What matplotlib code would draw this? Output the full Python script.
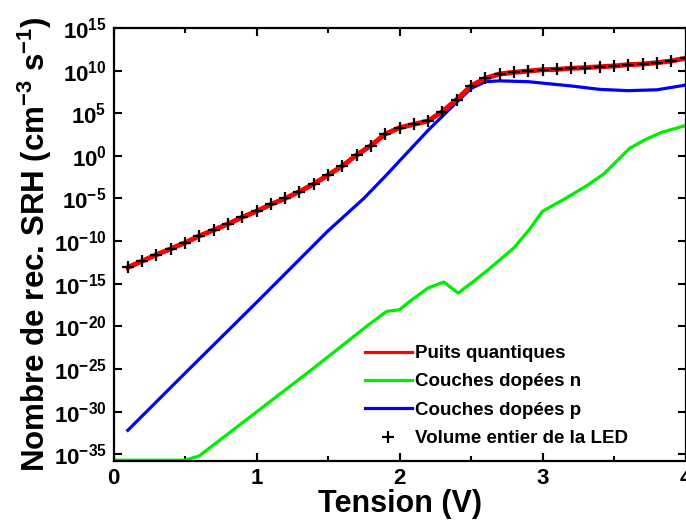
import numpy as np
import matplotlib
matplotlib.use("Agg")
import matplotlib.pyplot as plt
from matplotlib.ticker import FixedLocator, FuncFormatter, MultipleLocator

plt.rcParams['font.family'] = ['Liberation Sans', 'DejaVu Sans']
plt.rcParams['font.weight'] = 'bold'
plt.rcParams['mathtext.fontset'] = 'custom'
plt.rcParams['mathtext.rm'] = 'Liberation Sans:bold'
plt.rcParams['mathtext.bf'] = 'Liberation Sans:bold'
plt.rcParams['mathtext.it'] = 'Liberation Sans:bold'
plt.rcParams['mathtext.default'] = 'rm'

# ---- data (log10 of SRH recombination rate) ----
x_qw = [0.1, 0.2, 0.3, 0.4, 0.5, 0.6, 0.7, 0.8, 0.9, 1.0,
        1.1, 1.2, 1.3, 1.4, 1.5, 1.6, 1.7, 1.8, 1.9, 2.0,
        2.1, 2.2, 2.3, 2.4, 2.5, 2.6, 2.7, 2.8, 2.9, 3.0,
        3.1, 3.2, 3.3, 3.4, 3.5, 3.6, 3.7, 3.8, 3.9, 4.0]
log_qw = [-13.09, -12.35, -11.6, -10.9, -10.2, -9.4, -8.7, -8.0, -7.2, -6.5,
          -5.7, -5.0, -4.2, -3.3, -2.25, -1.2, 0.1, 1.2, 2.55, 3.3,
          3.7, 4.1, 5.2, 6.6, 8.2, 9.1, 9.6, 9.8, 9.95, 10.1,
          10.15, 10.27, 10.35, 10.45, 10.54, 10.7, 10.77, 10.93, 11.13, 11.45]

x_total = x_qw
log_total = [-13.09, -12.35, -11.6, -10.9, -10.2, -9.4, -8.7, -8.0, -7.2, -6.5,
             -5.7, -5.0, -4.2, -3.3, -2.25, -1.2, 0.1, 1.2, 2.55, 3.3,
             3.7, 4.1, 5.2, 6.6, 8.2, 9.1, 9.6, 9.8, 9.95, 10.1,
             10.15, 10.27, 10.35, 10.45, 10.54, 10.7, 10.77, 10.93, 11.13, 11.45]

x_n = [0.0, 0.5, 0.6, 1.0, 1.4, 1.77, 1.91, 2.0, 2.07, 2.2, 2.31, 2.41, 2.52,
       2.61, 2.8, 2.91, 3.0, 3.15, 3.31, 3.43, 3.52, 3.61, 3.73, 3.84, 4.0]
log_n = [-35.7, -35.7, -35.2, -30.05, -24.9, -20.0, -18.25, -18.05, -17.1, -15.5,
         -14.8, -16.1, -14.7, -13.5, -10.8, -8.6, -6.5, -5.1, -3.5, -2.1, -0.6,
         0.9, 2.0, 2.8, 3.55]

x_p = [0.1, 0.5, 1.0, 1.5, 1.75, 1.9, 2.0, 2.2, 2.4, 2.5, 2.6, 2.7, 2.9,
       3.2, 3.4, 3.6, 3.8, 4.0]
log_p = [-32.2, -25.5, -17.2, -8.8, -5.0, -2.4, -0.6, 3.0, 6.3, 7.9, 8.7, 8.8,
         8.7, 8.2, 7.8, 7.65, 7.75, 8.3]

labels = ["Puits quantiques", "Couches dopées n", "Couches dopées p",
          "Volume entier de la LED"]
xticks = [0, 1, 2, 3, 4]
ytick_exps = [-35, -30, -25, -20, -15, -10, -5, 0, 5, 10, 15]

fig = plt.figure(figsize=(6.86, 5.20), dpi=100)
ax = fig.add_axes([113.5 / 686, 59 / 520, 572 / 686, 433 / 520])

ax.plot(x_qw, 10.0 ** np.array(log_qw), color='#ff0000', lw=3.6, label=labels[0], zorder=3)
ax.plot(x_n, 10.0 ** np.array(log_n), color='#00ee00', lw=2.3, label=labels[1], zorder=2)
ax.plot(x_p, 10.0 ** np.array(log_p), color='#0000ff', lw=2.3, label=labels[2], zorder=2)
ax.plot(x_total, 10.0 ** np.array(log_total), ls='none', marker='+', ms=8,
        mew=1.6, color='black', label=labels[3], zorder=4)

ax.set_yscale('log')
ax.set_xlim(0, 4)
ax.set_ylim(10.0 ** -35.8, 1e15)

ax.xaxis.set_major_locator(FixedLocator(xticks))
ax.xaxis.set_minor_locator(MultipleLocator(0.5))
ax.yaxis.set_major_locator(FixedLocator([10.0 ** e for e in ytick_exps]))
ax.yaxis.set_minor_locator(FixedLocator([]))
ax.yaxis.set_major_formatter(FuncFormatter(lambda v, p: r'$10^{%d}$' % int(round(np.log10(v)))))
ax.xaxis.set_major_formatter(FuncFormatter(lambda v, p: '%d' % int(round(v))))

ax.tick_params(which='both', direction='in', top=True, right=True, width=1.5)
ax.tick_params(which='major', length=6)
ax.tick_params(which='minor', length=3.5)
ax.tick_params(axis='y', which='major', labelsize=16, pad=5)
ax.tick_params(axis='x', which='major', labelsize=16, pad=5)
for s in ax.spines.values():
    s.set_linewidth(1.6)

ax.set_xlabel('Tension (V)', fontsize=22, fontweight='bold', labelpad=0)
ax.set_ylabel(r'Nombre de rec. SRH (cm$^{-3}$ s$^{-1}$)', fontsize=22.5,
              fontweight='bold', labelpad=0)

handles, hl = ax.get_legend_handles_labels()
leg = ax.legend(handles, hl, loc='upper left',
                bbox_to_anchor=(365 / 686, 1 - 345 / 520),
                bbox_transform=fig.transFigure, frameon=False, fontsize=13.5,
                handlelength=2.5, handletextpad=0.15, labelspacing=0.6,
                borderpad=0, borderaxespad=0, numpoints=1)
for t in leg.get_texts():
    t.set_fontweight('bold')
leg.legend_handles[0].set_linewidth(2.3)

fig.savefig('out.png', dpi=100)
